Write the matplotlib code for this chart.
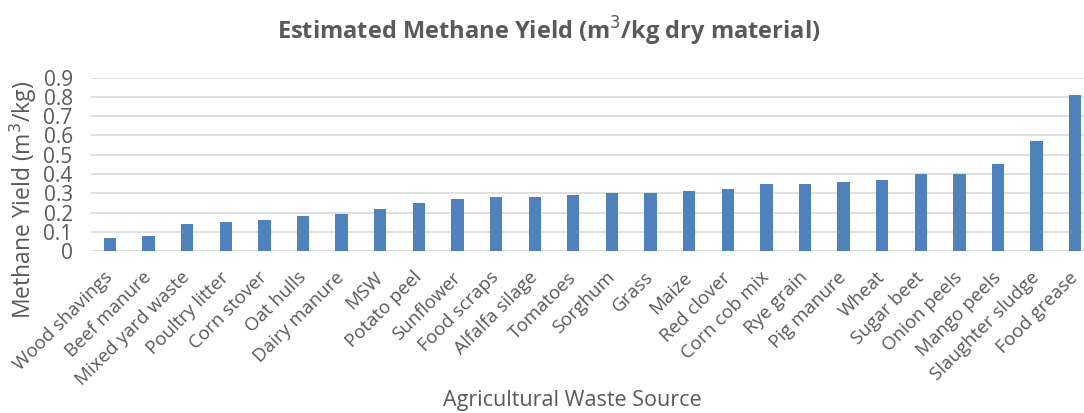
import matplotlib
matplotlib.use("Agg")
import matplotlib.pyplot as plt
import numpy as np

sources = ["Wood shavings", "Beef manure", "Mixed yard waste", "Poultry litter",
           "Corn stover", "Oat hulls", "Dairy manure", "MSW", "Potato peel",
           "Sunflower", "Food scraps", "Alfalfa silage", "Tomatoes", "Sorghum",
           "Grass", "Maize", "Red clover", "Corn cob mix", "Rye grain",
           "Pig manure", "Wheat", "Sugar beet", "Onion peels", "Mango peels",
           "Slaughter sludge", "Food grease"]
methane_yield = [0.07, 0.08, 0.14, 0.15, 0.16, 0.18, 0.19, 0.22, 0.25, 0.27,
                 0.28, 0.28, 0.29, 0.30, 0.30, 0.31, 0.32, 0.35, 0.35, 0.36,
                 0.37, 0.40, 0.40, 0.45, 0.57, 0.81]
y_ticks = [0, 0.1, 0.2, 0.3, 0.4, 0.5, 0.6, 0.7, 0.8, 0.9]

TEXT = '#595959'
plt.rcParams['font.family'] = ['Open Sans', 'DejaVu Sans']

fig = plt.figure(figsize=(10.84, 4.13), dpi=100)
ax = fig.add_axes([0.0837, 0.392, 0.926, 0.420])

x = np.arange(len(sources))
ax.bar(x, methane_yield, width=0.32, color='#4f81bd', zorder=3)

ax.set_xlim(-0.5, len(sources) - 0.5)
ax.set_ylim(0, 0.9)
ax.set_yticks(y_ticks)
ax.set_yticklabels([f'{v:g}' for v in y_ticks], fontsize=15, color=TEXT)
ax.yaxis.grid(True, color='#d9d9d9', linewidth=1.2, zorder=0)
ax.set_xticks(x)
ax.set_xticklabels(sources, rotation=45, ha='right', va='center',
                   rotation_mode='anchor', fontsize=13.5, color=TEXT)
ax.tick_params(axis='both', length=0)
ax.tick_params(axis='x', pad=17)
ax.tick_params(axis='y', pad=13)
for s in ax.spines.values():
    s.set_visible(False)

# axis titles placed like the Excel original (y title sits low)
fig.text(0.0212, 0.516, 'Methane Yield (m$^3$/kg)', rotation=90,
         ha='center', va='center', fontsize=16.5, color=TEXT)
fig.text(0.528, 0.030, 'Agricultural Waste Source', ha='center', va='center',
         fontsize=15.5, color=TEXT)
fig.text(0.506, 0.925, 'Estimated Methane Yield (m$^3$/kg dry material)',
         ha='center', va='center', fontsize=17, fontweight='bold', color=TEXT)

fig.savefig('out.png', dpi=100)
